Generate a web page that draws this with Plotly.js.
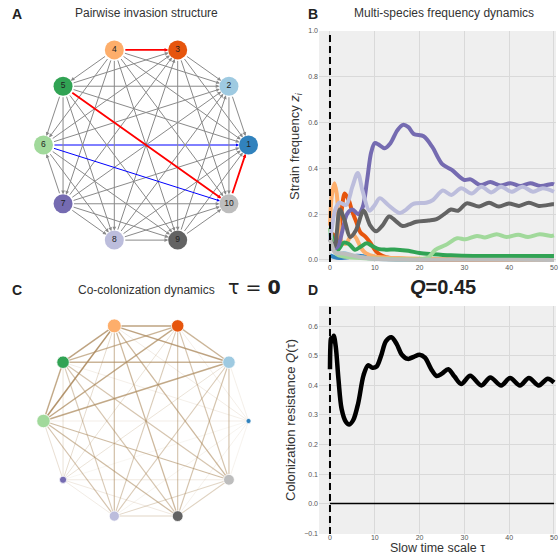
<!DOCTYPE html>
<html><head><meta charset="utf-8">
<script src="https://cdn.plot.ly/plotly-3.0.1.min.js"></script>
<style>html,body{margin:0;padding:0;background:#fff}#chart{width:559px;height:556px}</style>
</head><body><div id="chart"></div>
<script>
// ---------- data ----------
const nodeLabels = ['1','2','3','4','5','6','7','8','9','10'];
const nodeColors = ['#3182bd','#9ecae1','#e6550d','#fdae6b','#31a354','#a1d99b','#756bb1','#bcbddc','#636363','#bdbdbd'];
// strain frequencies at tau = 0 (node sizes in panel C)
const initialFreq = [0.02,0.12,0.12,0.15,0.12,0.14,0.04,0.08,0.09,0.09];
// directed invasion edges (source -> target)
const invasionEdges = [
 [2,1],[3,1],[4,1],[5,1],[6,1],[7,1],[8,1],[9,1],[10,1],
 [3,2],[4,2],[5,2],[6,2],[7,2],[8,2],[9,2],[2,10],
 [4,3],[5,3],[6,3],[7,3],[8,3],[3,9],[3,10],
 [4,5],[4,6],[4,7],[4,8],[4,9],[4,10],
 [5,6],[5,7],[5,8],[5,9],[5,10],
 [7,6],[6,8],[6,9],[6,10],
 [7,8],[7,9],[7,10],
 [8,9],[8,10],
 [9,10]];
const redPairs = [[3,4],[5,10],[1,10]];
const bluePairs = [[1,6],[6,10]];

// panel B: strain frequency dynamics
const t1 = [0,1,2,4,6,8,10,14,20,50];
const z1 = [0.02,0.012,0.008,0.012,0.018,0.015,0.008,0.003,0.001,0];
const t2 = [0,0.5,1,2,3,5,7,10,15,50];
const z2 = [0.12,0.07,0.04,0.025,0.03,0.02,0.012,0.005,0.002,0];
const t3 = [0,0.8,1.6,2.5,3.3,4.2,5,5.8,6.8,8,9,10,11,12.5,15,20,50];
const z3 = [0.12,0.11,0.08,0.2,0.29,0.26,0.21,0.17,0.12,0.1,0.075,0.045,0.025,0.012,0.006,0.002,0];
const t4 = [0,0.4,1,1.5,2,2.6,3.5,4.5,5.2,6,7,8,10,15,25,50];
const z4 = [0.15,0.28,0.335,0.29,0.16,0.08,0.07,0.1,0.11,0.09,0.05,0.03,0.015,0.008,0.003,0];
const t5 = [0,0.8,1.8,3,4.2,5.6,7,8.2,9.5,11,12.5,15,17.5,20,23,27,32,40,50];
const z5 = [0.14,0.08,0.045,0.075,0.07,0.045,0.06,0.073,0.06,0.047,0.045,0.045,0.04,0.03,0.025,0.02,0.017,0.017,0.017];
const t6 = [0,0.6,1.5,3,6,10,15,20,22,23.5,25.8,28.4,30.2,32.8,34.6,37.2,39.4,42,44.2,46.8,49.4,50];
const z6 = [0.14,0.06,0.025,0.015,0.01,0.006,0.003,0.003,0.012,0.044,0.065,0.095,0.09,0.105,0.098,0.112,0.1,0.11,0.1,0.112,0.105,0.107];
const t7 = [0,1,1.8,2.8,3.8,5,6.3,7.3,8.3,9.2,10,10.8,12.2,13.5,15,16.3,17.5,18.7,20.9,22.8,25,27.2,29.9,31.4,33.6,35.8,38,40.3,42.5,44.7,47,49.6,50];
const z7 = [0.05,0.05,0.06,0.13,0.2,0.22,0.2,0.23,0.35,0.47,0.51,0.505,0.488,0.51,0.565,0.59,0.58,0.55,0.54,0.495,0.42,0.393,0.35,0.352,0.327,0.34,0.325,0.335,0.323,0.335,0.323,0.332,0.33];
const t8 = [0,0.5,1.2,2.1,3.6,5,6.2,7.3,8.8,10,11.1,13,15.6,17,18.6,21.5,23,25.2,27.1,29.3,31.6,33.8,36,38.2,40.5,43,45.3,47.5,50];
const z8 = [0.08,0.15,0.22,0.25,0.24,0.32,0.38,0.3,0.215,0.24,0.27,0.24,0.205,0.22,0.245,0.25,0.262,0.303,0.284,0.313,0.29,0.32,0.295,0.32,0.298,0.32,0.298,0.313,0.298];
const t9 = [0,1,2.2,3.3,4.5,5.8,7.5,9,10.3,11.7,13.2,14.7,16.2,17.6,19.3,22,23.8,25.5,27,28.6,30.5,33.3,35.5,37.7,39.9,42.2,44.4,46.6,49.6,50];
const z9 = [0.09,0.06,0.22,0.17,0.1,0.13,0.215,0.15,0.125,0.15,0.19,0.17,0.148,0.155,0.167,0.172,0.178,0.2,0.22,0.215,0.247,0.233,0.25,0.233,0.247,0.236,0.25,0.236,0.243,0.243];
const t10 = [0,0.5,1,1.5,3,5,7,9,12,20,50];
const z10 = [0.09,0.06,0.035,0.03,0.028,0.02,0.012,0.006,0.003,0.001,0];
const strainT = [t1,t2,t3,t4,t5,t6,t7,t8,t9,t10];
const strainZ = [z1,z2,z3,z4,z5,z6,z7,z8,z9,z10];

// panel D: colonization resistance
const tauQ = [0,0.25,0.5,0.85,1.3,1.9,2.6,3.5,4.3,5.2,6.3,7.5,8.5,9.5,10.4,11.4,12.5,13.7,14.9,16,17.4,18.7,20,21.2,22.6,23.8,25,26.4,27.8,29.3,31.3,33.8,35.8,38.2,40.2,42.4,44.4,46.6,48.6,50];
const Q = [0.455,0.56,0.55,0.568,0.53,0.42,0.32,0.278,0.268,0.283,0.34,0.435,0.468,0.46,0.464,0.5,0.55,0.563,0.54,0.505,0.49,0.497,0.504,0.494,0.455,0.432,0.44,0.455,0.43,0.405,0.433,0.4,0.427,0.4,0.425,0.4,0.425,0.4,0.423,0.41];
const tauSpan = [0,50];
const tauStart = 0;
const Qbaseline = 0;

// ---------- layout helpers ----------
const N = nodeLabels.length;
const nx = nodeLabels.map((_,k)=>Math.cos(2*Math.PI*k/N));
const ny = nodeLabels.map((_,k)=>Math.sin(2*Math.PI*k/N));
const W = 559, H = 556;
const px = v => v/W, py = v => 1 - v/H;
const FONT = 'Liberation Sans, Arial, sans-serif';

const traces = [];
const annotations = [];
const shapes = [];

// panel C edges (co-colonization)
let maxW = 0;
for (let i=0;i<N;i++) for (let j=i+1;j<N;j++) maxW = Math.max(maxW, initialFreq[i]*initialFreq[j]);
for (let i=0;i<N;i++) for (let j=i+1;j<N;j++) {
  const w = initialFreq[i]*initialFreq[j]/maxW;
  traces.push({x:[nx[i],nx[j]], y:[ny[i],ny[j]], xaxis:'x3', yaxis:'y3', mode:'lines',
    line:{color:`rgba(172,138,94,${(0.08+0.82*w).toFixed(3)})`, width:0.7+0.9*w},
    hoverinfo:'skip', showlegend:false});
}
// panel C nodes
traces.push({x:nx, y:ny, xaxis:'x3', yaxis:'y3', mode:'markers', showlegend:false,
  marker:{color:nodeColors, opacity:1, size:initialFreq.map(z=>36*Math.sqrt(z)), line:{color:'#ffffff', width:0.8}},
  text:nodeLabels, hoverinfo:'text'});

// panel A nodes
traces.push({x:nx, y:ny, xaxis:'x', yaxis:'y', mode:'markers+text', showlegend:false,
  marker:{color:nodeColors, opacity:1, size:19, line:{width:0}},
  text:nodeLabels, textposition:'middle center', textfont:{family:FONT, size:8.5, color:'#222'},
  hoverinfo:'text'});

// panel A edges as arrows
const samePair = (a,b,p)=> (p[0]===a&&p[1]===b)||(p[0]===b&&p[1]===a);
invasionEdges.forEach(([s,t])=>{
  let color='#8a8a8a', width=1, size=0.75;
  if (redPairs.some(p=>samePair(s,t,p))) {color='#ff0000'; width=1.8; size=0.4;}
  else if (bluePairs.some(p=>samePair(s,t,p))) {color='#0000ff'; width=1; size=0.6;}
  annotations.push({xref:'x', yref:'y', axref:'x', ayref:'y',
    x:nx[t-1], y:ny[t-1], ax:nx[s-1], ay:ny[s-1], text:'', showarrow:true,
    arrowhead:2, arrowsize:size, arrowwidth:width, arrowcolor:color, standoff:9.5, startstandoff:9.5});
});

// panel B lines
for (let k=0;k<N;k++) {
  traces.push({x:strainT[k], y:strainZ[k], xaxis:'x2', yaxis:'y2', mode:'lines', name:'strain '+nodeLabels[k],
    line:{color:nodeColors[k], width:4, shape:'spline', smoothing:0.9}, showlegend:false});
}
// panel D line
traces.push({x:tauQ, y:Q, xaxis:'x4', yaxis:'y4', mode:'lines', name:'Q',
  line:{color:'#000000', width:4.5, shape:'spline', smoothing:0.9}, showlegend:false});

// backgrounds, dashed tau=0 lines, baseline
[['x2','y2'],['x4','y4']].forEach(([xa,ya])=>{
  shapes.push({type:'rect', xref:xa+' domain', yref:ya+' domain', x0:0, x1:1, y0:0, y1:1,
    fillcolor:'#efefef', line:{width:0}, layer:'below'});
  shapes.push({type:'line', xref:xa, yref:ya+' domain', x0:tauStart, x1:tauStart, y0:0, y1:1,
    line:{color:'#000', width:2, dash:'7px,4px'}, layer:'above'});
});
shapes.push({type:'line', xref:'x4', yref:'y4', x0:tauSpan[0], x1:tauSpan[1], y0:Qbaseline, y1:Qbaseline,
  line:{color:'#000', width:1.5}, layer:'above'});

// titles
const addText = (text, x, y, size, opts={}) => annotations.push(Object.assign({
  xref:'paper', yref:'paper', x:px(x), y:py(y), xanchor:'center', yanchor:'middle',
  text, showarrow:false, font:{family:FONT, size, color:'#333'}}, opts));
addText('<b>A</b>', 17, 14.5, 14, {font:{family:FONT,size:14,color:'#222'}});
addText('Pairwise invasion structure', 146, 13.5, 12);
addText('<b>B</b>', 313, 14.5, 14, {font:{family:FONT,size:14,color:'#222'}});
addText('Multi-species frequency dynamics', 444, 13.5, 12);
addText('<b>C</b>', 17, 290, 14, {font:{family:FONT,size:14,color:'#222'}});
addText('Co-colonization dynamics', 146, 290, 12);
addText('τ = <b>0</b>', 254, 287, 19, {font:{family:'DejaVu Sans, sans-serif', size:19, color:'#222'}});
addText('<b>D</b>', 313, 290, 14, {font:{family:FONT,size:14,color:'#222'}});
addText('<b><i>Q</i>=0.45</b>', 443, 287, 20, {font:{family:FONT,size:20,color:'#222'}});

const gridAxis = (extra) => Object.assign({
  showgrid:true, gridcolor:'#d9d9d9', gridwidth:1, zeroline:false, showline:false,
  ticks:'', tickfont:{family:FONT, size:7, color:'#555'}, fixedrange:true}, extra);
const hidden = (extra) => Object.assign({visible:false, showgrid:false, zeroline:false, fixedrange:true}, extra);

const layout = {
  width:W, height:H, margin:{l:0,r:0,t:0,b:0},
  paper_bgcolor:'#ffffff', plot_bgcolor:'rgba(0,0,0,0)',
  showlegend:false, font:{family:FONT},
  xaxis: hidden({domain:[0, px(292)], range:[-1.424,1.424]}),
  yaxis: hidden({domain:[py(260), py(30)], range:[-1.15,1.15]}),
  xaxis3: hidden({domain:[0, px(292)], range:[-1.424,1.424]}),
  yaxis3: hidden({domain:[py(536), py(306)], range:[-1.15,1.15]}),
  xaxis2: gridAxis({domain:[px(319), px(556)], range:[-2.45,50.45], tickvals:[0,10,20,30,40,50], anchor:'y2'}),
  yaxis2: gridAxis({domain:[py(262), py(31)], range:[-0.009,1.0], tickvals:[0,0.2,0.4,0.6,0.8,1.0], tickformat:'.1f', anchor:'x2',
    title:{text:'Strain frequency <i>z<sub>i</sub></i>', font:{family:FONT,size:13,color:'#333'}, standoff:5}}),
  xaxis4: gridAxis({domain:[px(319), px(556)], range:[-2.45,50.45], tickvals:[0,10,20,30,40,50], anchor:'y4',
    ticklabelstandoff:-2,
    title:{text:'Slow time scale τ', font:{family:FONT,size:12.5,color:'#333'}, standoff:2}}),
  yaxis4: gridAxis({domain:[py(534), py(306)], range:[-0.103,0.669], tickvals:[-0.1,0,0.1,0.2,0.3,0.4,0.5,0.6], tickformat:'.1f', anchor:'x4',
    title:{text:'Colonization resistance <i>Q</i>(τ)', font:{family:FONT,size:13,color:'#333'}, standoff:5}}),
  annotations, shapes
};
Plotly.newPlot('chart', traces, layout, {displayModeBar:false, staticPlot:true});
</script>
</body></html>
